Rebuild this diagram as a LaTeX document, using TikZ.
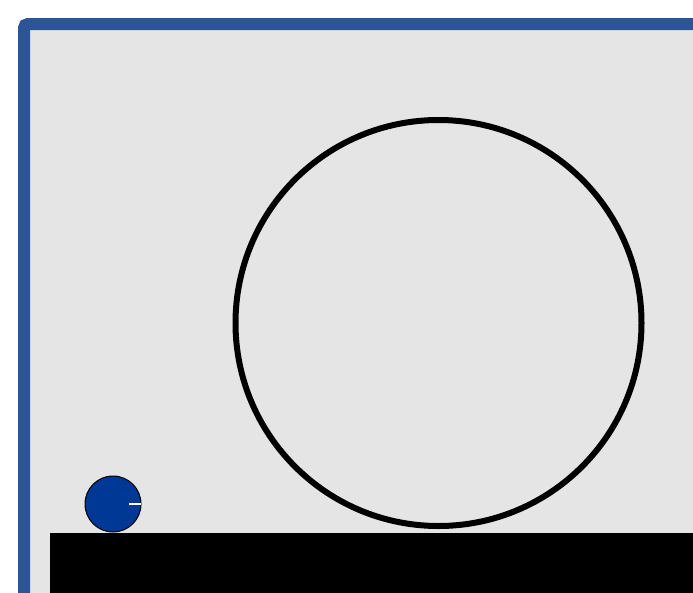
\documentclass[tikz,border=0pt]{standalone}
\usetikzlibrary{positioning}
\definecolor{framecol}{RGB}{44, 84, 150}
\definecolor{panelgray}{RGB}{229, 229, 229}
\definecolor{ballblue}{RGB}{0, 56, 150}
\tikzset{
  % track loop
  loop/.style={circle, draw=black, line width=6pt, minimum size=406pt, inner sep=0pt},
  % rolling ball
  ball/.style={circle, draw=black, line width=1pt, fill=ballblue, minimum size=56pt, inner sep=0pt},
  % spin marker on the ball
  marker/.style={draw=white, line width=2pt},
}
\begin{document}
\begin{tikzpicture}[x=1pt, y=-1pt]
  \useasboundingbox (0,0) rectangle (693,592);
  \clip (0,0) rectangle (693,592);
  \fill[white] (0,0) rectangle (693,592);
  % frame
  \draw[framecol, fill=panelgray, line width=12pt, rounded corners=4pt] (24,24) rectangle (720,620);
  % ground
  \fill[black] (50,533) rectangle (700,600);
  \node[loop] (hoop) at (438.5,323) {};
  \node[ball] (ball) at (113,504) {};
  \coordinate (tick) at (129,504);
  \draw[marker] (tick) -- ([xshift=-1pt]ball.east);
\end{tikzpicture}
\end{document}
